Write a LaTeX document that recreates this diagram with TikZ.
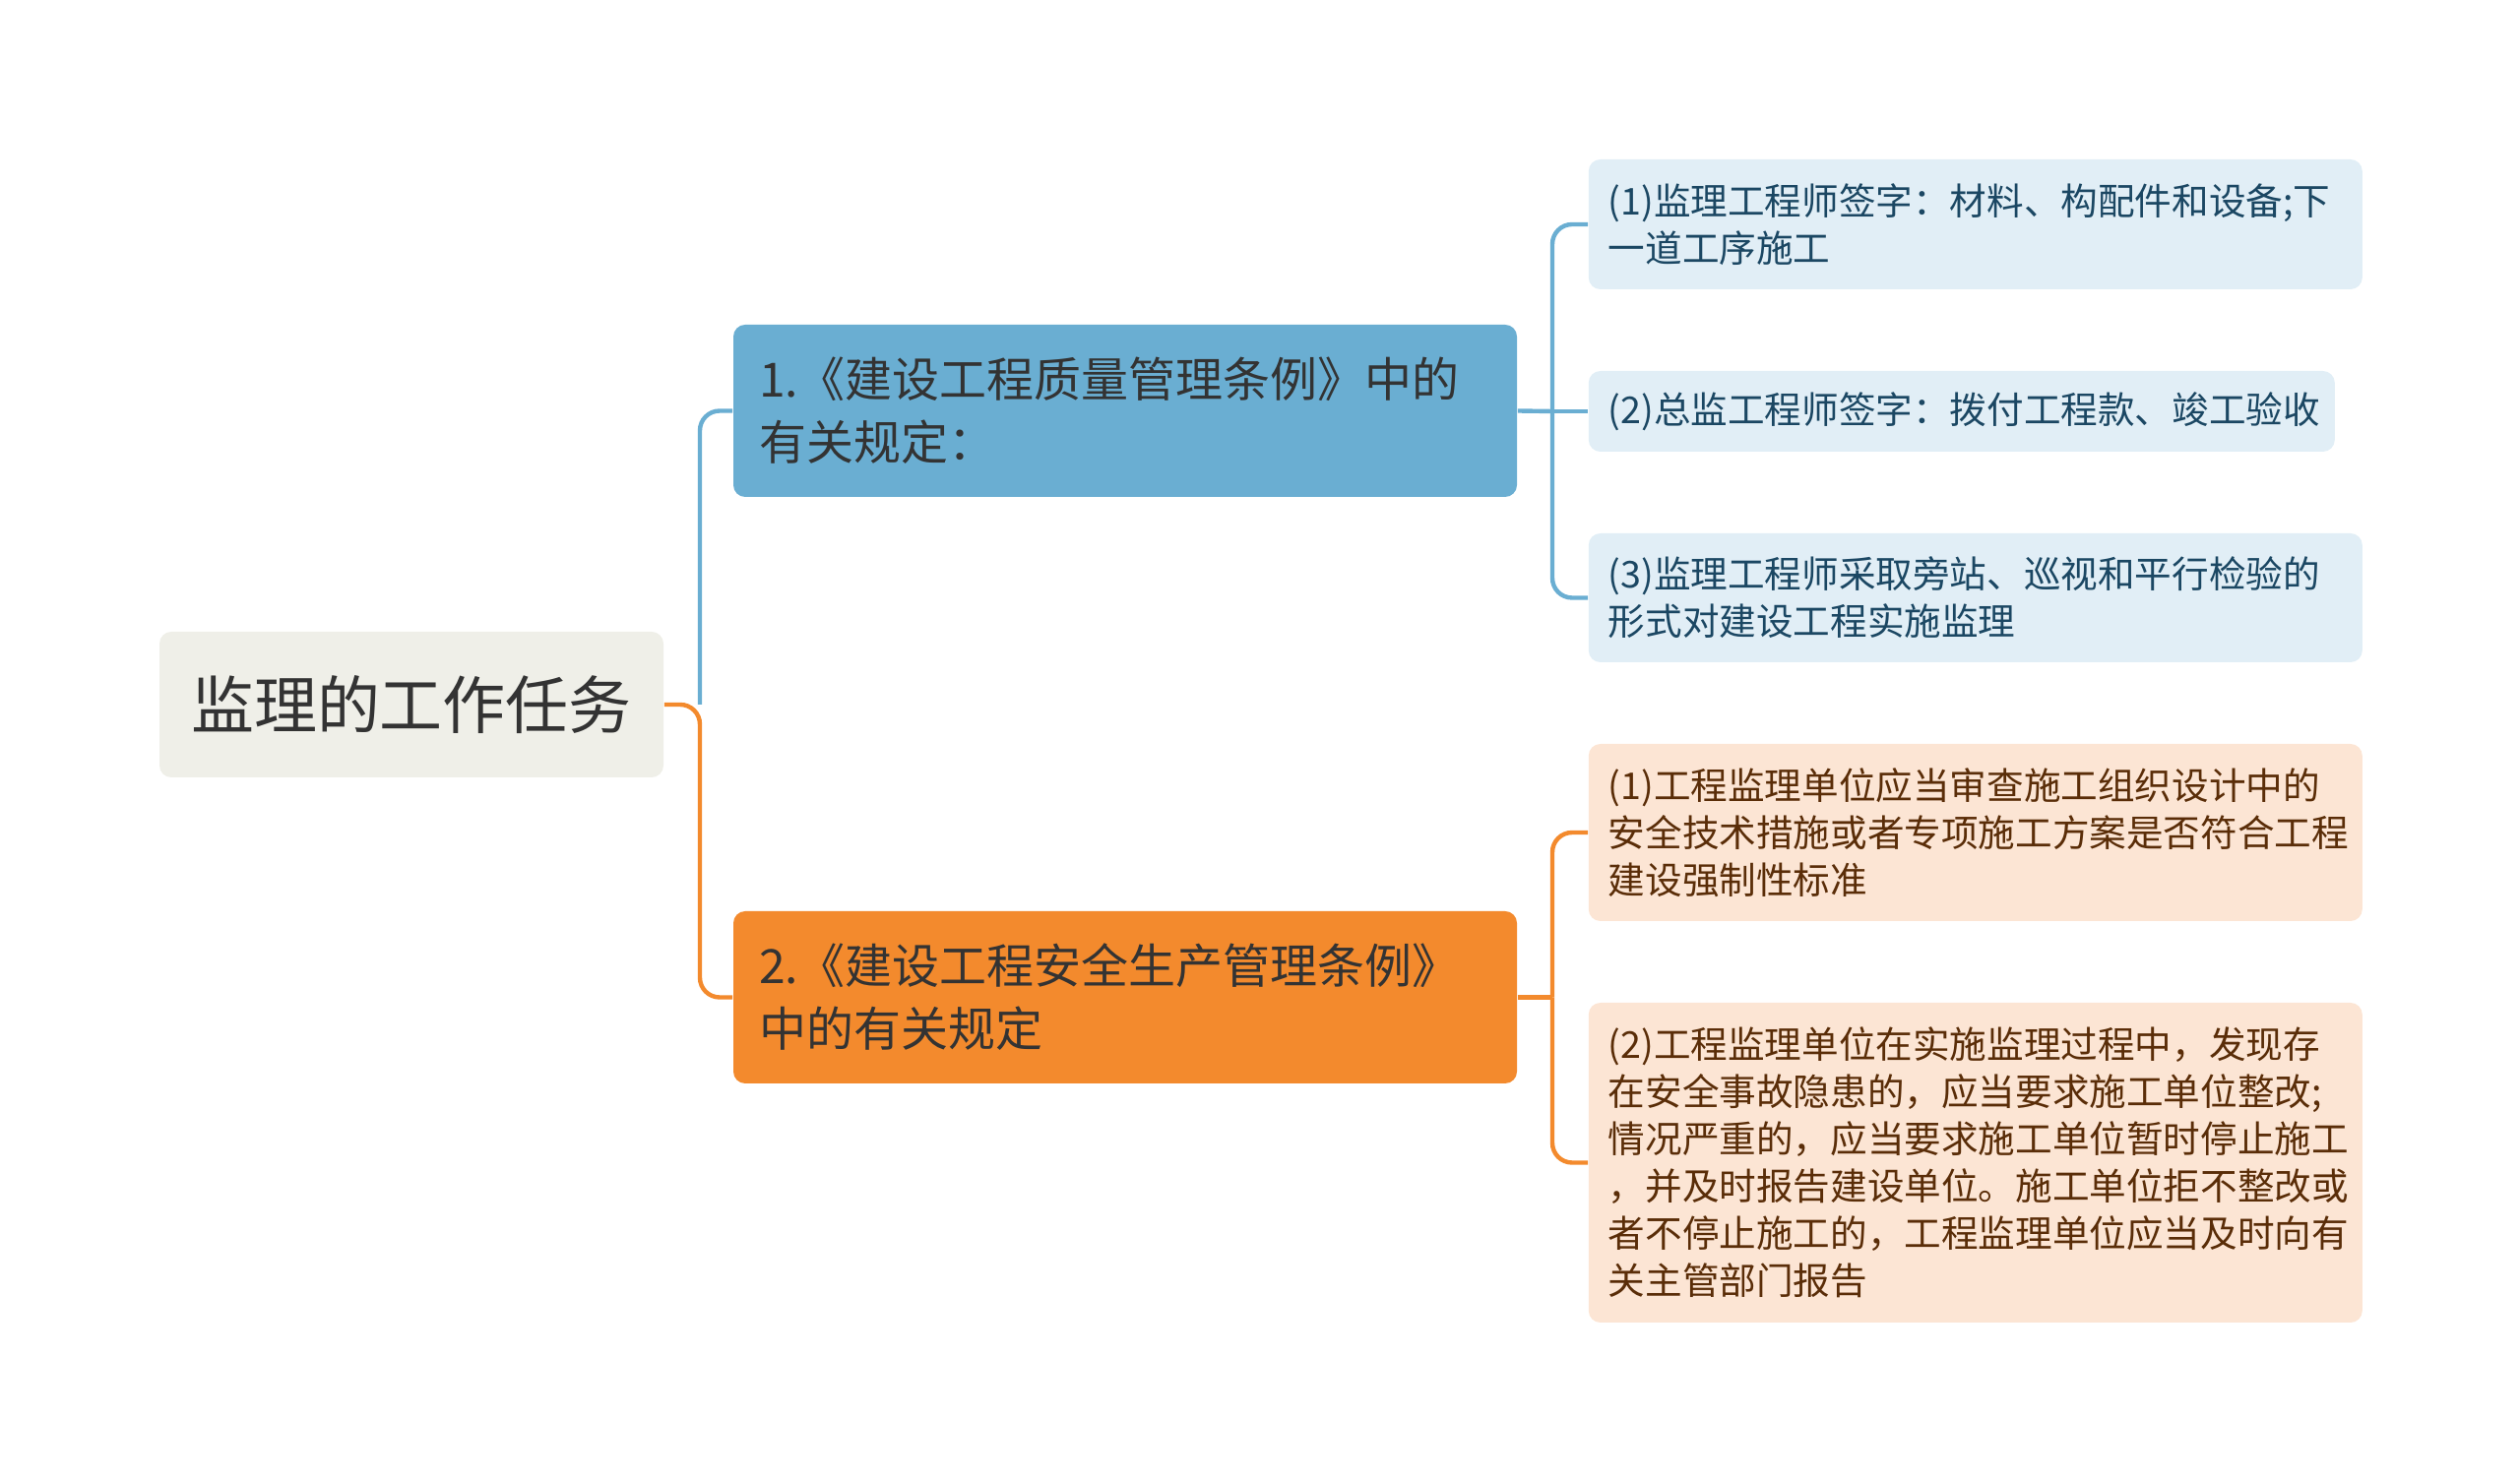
\documentclass[tikz,border=0pt]{standalone}
\usepackage{fontspec}
\setmainfont{Noto Sans CJK SC}
\usepackage{tikz}
\definecolor{rootfill}{HTML}{EFEFE8}
\definecolor{bluemain}{HTML}{6AAED2}
\definecolor{bluelight}{HTML}{E1EEF6}
\definecolor{bluetext}{HTML}{1B4763}
\definecolor{orangemain}{HTML}{F38A2D}
\definecolor{orangelight}{HTML}{FCE5D4}
\definecolor{orangetext}{HTML}{5A2D08}
\tikzset{
	topic/.style={rounded corners=3pt, inner sep=0pt, align=left, text=black!80},
	leafbox/.style={topic, anchor=west, font=\fontsize{9.4pt}{12pt}\selectfont},
	bluelink/.style={draw=bluemain, line width=1.1pt, rounded corners=5pt},
	orangelink/.style={draw=orangemain, line width=1.1pt, rounded corners=5pt}
}

\begin{document}
\begin{tikzpicture}[x=0.25pt, y=-0.25pt]
			\useasboundingbox (0,0) rectangle (2560,1505);
			\node[topic, fill=rootfill, minimum width=128pt, minimum height=37pt, align=center, font=\fontsize{16pt}{19pt}\selectfont] (root) at (418,716) {监理的工作任务};
			\node[topic, fill=bluemain, minimum width=199pt, minimum height=43.75pt, text width=186pt, font=\fontsize{12pt}{16pt}\selectfont] (law1) at (1143,417.5) {1.《建设工程质量管理条例》中的\\有关规定：};
			\node[topic, fill=orangemain, minimum width=199pt, minimum height=43.75pt, text width=186pt, font=\fontsize{12pt}{16pt}\selectfont] (law2) at (1143,1013.5) {2.《建设工程安全生产管理条例》\\中的有关规定};
			\node[leafbox, fill=bluelight, text=bluetext, minimum width=196.5pt, minimum height=33pt, text width=186.5pt] (sign1) at (1613,228) {(1)监理工程师签字：材料、构配件和设备;下\\一道工序施工};
			\node[leafbox, fill=bluelight, text=bluetext, minimum width=189.5pt, minimum height=20.5pt, text width=179.5pt] (sign2) at (1613,418) {(2)总监工程师签字：拨付工程款、竣工验收};
			\node[leafbox, fill=bluelight, text=bluetext, minimum width=196.5pt, minimum height=32.75pt, text width=186.5pt] (sign3) at (1613,607.5) {(3)监理工程师采取旁站、巡视和平行检验的\\形式对建设工程实施监理};
			\node[leafbox, fill=orangelight, text=orangetext, minimum width=196.5pt, minimum height=45pt, text width=186.5pt] (safe1) at (1613,846) {(1)工程监理单位应当审查施工组织设计中的\\安全技术措施或者专项施工方案是否符合工程\\建设强制性标准};
			\node[leafbox, fill=orangelight, text=orangetext, minimum width=196.5pt, minimum height=81.25pt, text width=186.5pt] (safe2) at (1613,1181.5) {(2)工程监理单位在实施监理过程中，发现存\\在安全事故隐患的，应当要求施工单位整改;\\情况严重的，应当要求施工单位暂时停止施工\\，并及时报告建设单位。施工单位拒不整改或\\者不停止施工的，工程监理单位应当及时向有\\关主管部门报告};
			\coordinate (rootjoint) at (711,716);
			\coordinate (law1joint) at (1577,418);
			\coordinate (law2joint) at (1577,1013.5);
			\draw[bluelink] (rootjoint) |- (law1.west);
			\draw[orangelink] (root.east) -- (rootjoint) |- (law2.west);
			\draw[bluelink] (law1.east) -- (law1joint);
			\draw[bluelink] (law1joint) |- (sign1.west);
			\draw[bluelink] (law1joint) -- (sign2.west);
			\draw[bluelink] (law1joint) |- (sign3.west);
			\draw[orangelink] (law2.east) -- (law2joint);
			\draw[orangelink] (law2joint) |- (safe1.west);
			\draw[orangelink] (law2joint) |- (safe2.west);
		\end{tikzpicture}
\end{document}
